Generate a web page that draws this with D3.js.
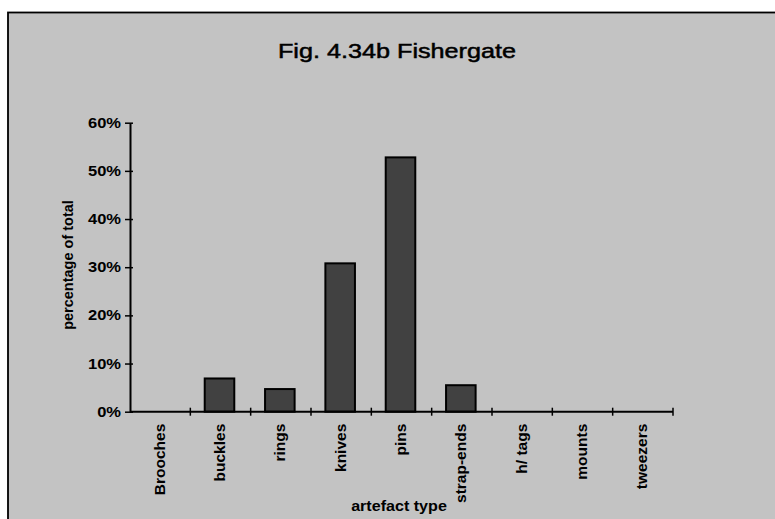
<!DOCTYPE html>
<html>
<head>
<meta charset="utf-8">
<script src="https://cdn.jsdelivr.net/npm/d3@7/dist/d3.min.js"></script>
<style>
  html, body { margin: 0; padding: 0; background: #ffffff; }
  svg { display: block; }
  text { font-family: "Liberation Sans", Arial, sans-serif; fill: #000; }
</style>
</head>
<body>
<svg id="chart" width="775" height="519"></svg>
<script>
// Artefact types and their share of the Fishergate assemblage (%)
const categories = ["Brooches", "buckles", "rings", "knives", "pins", "strap-ends", "h/ tags", "mounts", "tweezers"];
const percentages = [0, 6.9, 4.7, 30.8, 52.8, 5.5, 0, 0, 0];
const yTicks = [0, 10, 20, 30, 40, 50, 60];

const titleText = "Fig. 4.34b Fishergate";
const yTitle = "percentage of total";
const xTitle = "artefact type";

const svg = d3.select("#chart");

// chart area frame (fill runs off the right and bottom edges)
svg.append("rect")
  .attr("x", 8).attr("y", 12.5)
  .attr("width", 800).attr("height", 520)
  .attr("fill", "#c3c3c3")
  .attr("stroke", "#000").attr("stroke-width", 1.8);

const plot = { left: 130, right: 673, top: 122.7, bottom: 411.7 };

const x = d3.scaleBand()
  .domain(categories)
  .range([plot.left, plot.right])
  .paddingInner(0).paddingOuter(0);

const y = d3.scaleLinear()
  .domain([0, 60])
  .range([plot.bottom, plot.top]);

// bars
const barW = x.bandwidth() * 0.49;
svg.append("g").selectAll("rect")
  .data(categories.map((c, i) => ({ c, v: percentages[i] })).filter(d => d.v > 0))
  .join("rect")
  .attr("x", d => x(d.c) + x.bandwidth() / 2 - barW / 2 - 1)
  .attr("y", d => y(d.v))
  .attr("width", barW)
  .attr("height", d => y(0) - y(d.v))
  .attr("fill", "#414141")
  .attr("stroke", "#000")
  .attr("stroke-width", 2);

// y axis
const yAxis = svg.append("g")
  .attr("transform", `translate(${plot.left},0)`)
  .call(d3.axisLeft(y).tickValues(yTicks).tickFormat(d => d + "%").tickSize(5).tickSizeOuter(0));
yAxis.select(".domain").attr("stroke", "#000").attr("stroke-width", 2);
yAxis.selectAll(".tick line").attr("x2", 3).attr("x1", -5).attr("stroke", "#000").attr("stroke-width", 1.5);
yAxis.selectAll(".tick text")
  .attr("x", -9 / 1.18)
  .attr("transform", "scale(1.18,1)")
  .style("font-size", "14px")
  .style("font-weight", "bold");

// x axis: line, boundary ticks, rotated category labels
const xAxis = svg.append("g");
xAxis.append("line")
  .attr("x1", plot.left).attr("x2", plot.right)
  .attr("y1", y(0)).attr("y2", y(0))
  .attr("stroke", "#000").attr("stroke-width", 2);
const bounds = categories.slice(1).map(c => x(c)).concat([plot.right]);
xAxis.selectAll("line.tick")
  .data(bounds)
  .join("line")
  .attr("class", "tick")
  .attr("x1", d => d).attr("x2", d => d)
  .attr("y1", y(0) - 4).attr("y2", y(0) + 4)
  .attr("stroke", "#000").attr("stroke-width", 1.5);
xAxis.selectAll("text")
  .data(categories)
  .join("text")
  .attr("transform", d => `translate(${x(d) + x.bandwidth() / 2 - 1},${y(0) + 12}) rotate(-90)`)
  .attr("text-anchor", "end")
  .attr("dy", "0.35em")
  .style("font-size", "15.5px")
  .style("font-weight", "bold")
  .text(d => d);

// titles
svg.append("text")
  .attr("transform", "translate(397,58) scale(1.2,1)")
  .attr("text-anchor", "middle")
  .style("font-size", "21px")
  .style("stroke", "#000")
  .style("stroke-width", "0.5px")
  .text(titleText);

svg.append("text")
  .attr("transform", "translate(73,265) rotate(-90)")
  .attr("text-anchor", "middle")
  .style("font-size", "14.5px")
  .style("font-weight", "bold")
  .text(yTitle);

svg.append("text")
  .attr("transform", "translate(399,511) scale(1.15,1)")
  .attr("text-anchor", "middle")
  .style("font-size", "14px")
  .style("font-weight", "bold")
  .text(xTitle);
</script>
</body>
</html>
